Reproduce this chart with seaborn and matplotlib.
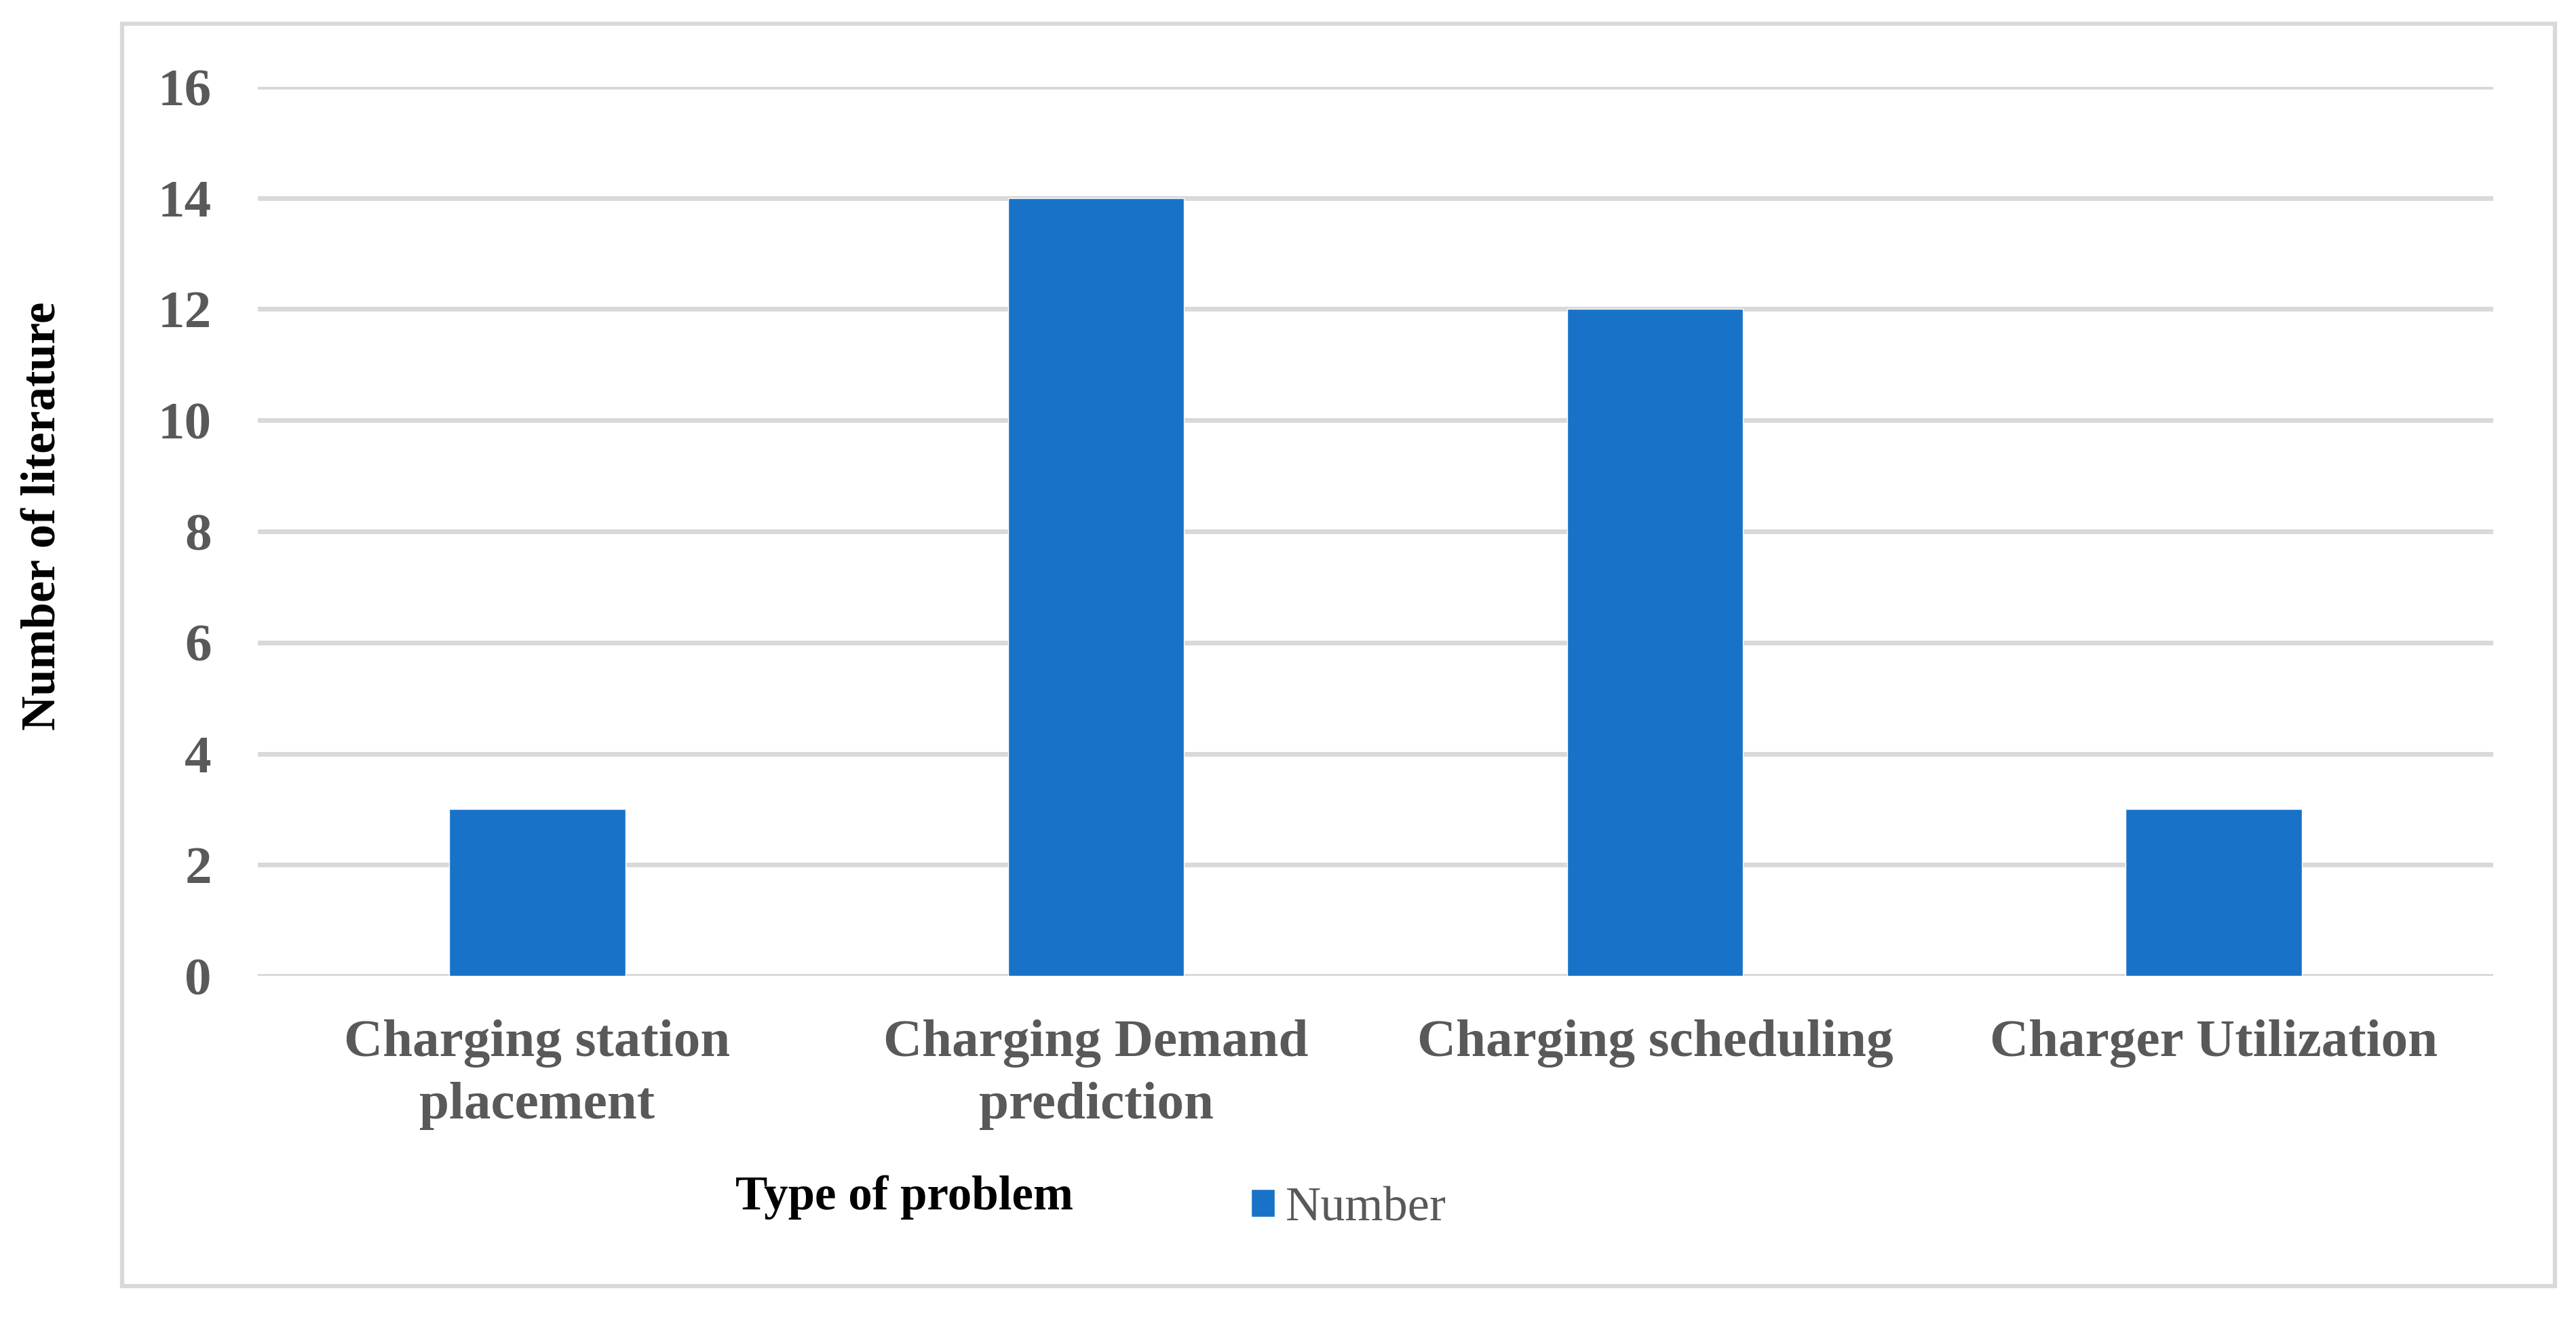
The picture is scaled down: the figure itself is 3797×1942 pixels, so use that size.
import matplotlib
matplotlib.use("Agg")
import matplotlib.pyplot as plt
import seaborn as sns
import pandas as pd
from matplotlib.patches import Rectangle

categories = ["Charging station\nplacement", "Charging Demand\nprediction",
              "Charging scheduling", "Charger Utilization"]
values = [3, 14, 12, 3]
y_ticks = [0, 2, 4, 6, 8, 10, 12, 14, 16]
series_name = "Number"
x_title = "Type of problem"
y_title = "Number of literature"

sns.set_theme(style="white")
plt.rcParams['font.family'] = ['Liberation Serif', 'DejaVu Serif']

W, H = 3797, 1942
fig = plt.figure(figsize=(W / 100, H / 100), dpi=100)
ax = fig.add_axes([380 / W, 1 - 1438 / H, (3675 - 380) / W, (1438 - 128) / H])

df = pd.DataFrame({"cat": categories, "val": values})
sns.barplot(data=df, x="cat", y="val", color="#1873C8", saturation=1,
            width=0.315, label=series_name, ax=ax, zorder=3)

ax.set_ylim(0, 16)
ax.set_yticks(y_ticks)
ax.set_xlim(-0.5, len(categories) - 0.5)
ax.grid(axis="y", color="#D9D9D9", linewidth=5, zorder=0)
ax.grid(axis="x", visible=False)
ax.set_axisbelow(True)
for s in ax.spines.values():
    s.set_visible(False)
ax.set_xlabel("")
ax.set_ylabel("")
ax.tick_params(axis="y", length=0, pad=49, labelsize=57, labelcolor="#595959")
ax.tick_params(axis="x", length=0, pad=46, labelsize=57, labelcolor="#595959")
for lab in ax.get_yticklabels():
    lab.set_fontweight("bold")
for lab in ax.get_xticklabels():
    lab.set_fontweight("bold")
    lab.set_linespacing(1.39)

fig.text(1333 / W, 1 - 1782 / H, x_title, ha="center", va="baseline",
         fontsize=51, fontweight="bold", color="black")
fig.text(64 / W, 1 - 760 / H, y_title, ha="center", va="center", rotation=90,
         fontsize=51, fontweight="bold", color="black")

leg = ax.legend(loc="center left", bbox_to_anchor=(1844 / W, 1 - 1781 / H),
                bbox_transform=fig.transFigure, frameon=False, fontsize=52,
                handlelength=0.49, handleheight=0.49, handletextpad=0.22,
                borderpad=0, borderaxespad=0)
for t in leg.get_texts():
    t.set_color("#595959")

fig.patches.append(Rectangle((180 / W, 1 - 1895 / H), (3766 - 180) / W, (1895 - 35) / H,
                             transform=fig.transFigure, fill=False,
                             edgecolor="#D9D9D9", linewidth=4.5, zorder=0))

fig.savefig("out.png", dpi=100, facecolor="white")
